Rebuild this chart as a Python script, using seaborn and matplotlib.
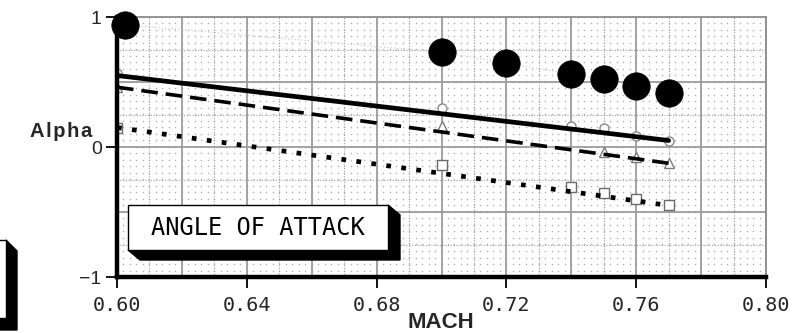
import numpy as np
import matplotlib
matplotlib.use("Agg")
import matplotlib.pyplot as plt
from matplotlib.patches import Polygon, Rectangle
import seaborn as sns

# Mach numbers of the measured points
mach = [0.60, 0.70, 0.74, 0.75, 0.76, 0.77]
mach_tri = [0.60, 0.70, 0.75, 0.76, 0.77]
mach_big = [0.6025, 0.70, 0.72, 0.74, 0.75, 0.76, 0.77]

# angle of attack values
alpha_big = [0.94, 0.73, 0.645, 0.56, 0.52, 0.47, 0.415]
alpha_circle = [0.57, 0.30, 0.16, 0.145, 0.085, 0.05]
alpha_triangle = [0.46, 0.16, -0.035, -0.075, -0.125]
alpha_square = [0.15, -0.14, -0.305, -0.35, -0.40, -0.445]

# straight trend lines, given by their values at Mach 0.60 and 0.77
trend_mach = [0.60, 0.77]
trend_solid = [0.55, 0.05]
trend_dashed = [0.46, -0.125]
trend_dotted = [0.15, -0.45]

xticks = [0.60, 0.64, 0.68, 0.72, 0.76, 0.80]
xtick_labels = ["0.60", "0.64", "0.68", "0.72", "0.76", "0.80"]
yticks = [-1, 0, 1]
ytick_labels = ["\u22121", "0", "1"]

sns.set_theme(style="white")
plt.rcParams["font.family"] = ["Liberation Sans", "DejaVu Sans"]

W, H = 792, 333
fig = plt.figure(figsize=(W / 100, H / 100), dpi=100)
L, R, T, B = 117, 766, 17, 277
ax = fig.add_axes([L / W, 1 - B / H, (R - L) / W, (B - T) / H])
ax.set_xlim(0.60, 0.80)
ax.set_ylim(-1, 1)

# background: dot mesh, dotted sub-grid and solid major grid
gx, gy = np.meshgrid(np.arange(0.60, 0.8001, 0.002), np.arange(-1, 1.001, 0.05))
ax.plot(gx.ravel(), gy.ravel(), linestyle="none", marker="s", markersize=1.0,
        color="#b0b0b0", markeredgewidth=0, zorder=0)
for x in np.arange(0.61, 0.80, 0.02):
    ax.axvline(x, color="#a0a0a0", lw=0.8, linestyle=(0, (1, 1.5)), zorder=0)
for y in [-0.75, -0.25, 0.25, 0.75]:
    ax.axhline(y, color="#a0a0a0", lw=0.8, linestyle=(0, (1, 1.5)), zorder=0)
for x in np.arange(0.62, 0.80, 0.02):
    ax.axvline(x, color="#9c9c9c", lw=1.3, zorder=0.5)
for y in [-0.5, 0, 0.5]:
    ax.axhline(y, color="#9c9c9c", lw=1.3, zorder=0.5)

# faint trace through the large points
sns.lineplot(x=mach_big, y=alpha_big, ax=ax, color="#c4c4c4", lw=0.8,
             linestyle=(0, (1, 2)), sort=False, zorder=1)

# open symbols
sns.lineplot(x=mach, y=alpha_circle, ax=ax, marker="o", linestyle="none",
             markerfacecolor="white", markeredgecolor="#8a8a8a", markeredgewidth=1.0,
             markersize=6.5, sort=False, zorder=2)
sns.lineplot(x=mach_tri, y=alpha_triangle, ax=ax, marker="^", linestyle="none",
             markerfacecolor="white", markeredgecolor="#7a7a7a", markeredgewidth=1.0,
             markersize=6.5, sort=False, zorder=2)
sns.lineplot(x=mach, y=alpha_square, ax=ax, marker="s", linestyle="none",
             markerfacecolor="white", markeredgecolor="#6a6a6a", markeredgewidth=1.0,
             markersize=6.5, sort=False, zorder=2)

# trend lines
sns.lineplot(x=trend_mach, y=trend_solid, ax=ax, color="black", lw=3.4,
             sort=False, zorder=3)
sns.lineplot(x=trend_mach, y=trend_dashed, ax=ax, color="black", lw=2.6,
             linestyle=(0, (4.6, 2.2)), sort=False, zorder=3)
sns.lineplot(x=trend_mach, y=trend_dotted, ax=ax, color="black", lw=3.4,
             linestyle=(0, (1, 2.2)), sort=False, zorder=3)

# large filled points
sns.scatterplot(x=mach_big, y=alpha_big, ax=ax, s=390, color="black",
                edgecolor="black", linewidth=0.5, zorder=4, clip_on=False)

# frame
for side in ("left", "bottom"):
    ax.spines[side].set_color("black")
    ax.spines[side].set_linewidth(3.2)
for side in ("top", "right"):
    ax.spines[side].set_color("#8c8c8c")
    ax.spines[side].set_linewidth(1.3)

ax.set_xticks(xticks)
ax.set_xticklabels(xtick_labels, fontfamily="DejaVu Sans Mono", fontsize=14.5)
ax.set_yticks(yticks)
ax.set_yticklabels(ytick_labels, fontsize=14)
ax.tick_params(axis="both", which="major", direction="out", length=8, width=1.3,
               color="black", left=True, bottom=True, pad=3)
ax.tick_params(axis="x", pad=6)
ax.set_xlabel("")
ax.set_ylabel("")

# axis titles
narrow = ["Liberation Sans Narrow", "Liberation Sans", "DejaVu Sans"]
fig.text(61 / W, 1 - 137 / H, "A\u200al\u200ap\u200ah\u200aa", ha="center",
         va="baseline", fontsize=14.5, fontweight="bold", family=narrow)
fig.text(441 / W, 1 - 328 / H, "MACH", ha="center", va="baseline",
         fontsize=16, fontweight="bold", family=narrow)

# caption box with drop shadow
def af(px, py):
    return ((px - L) / (R - L), (B - py) / (B - T))

shadow = Polygon([af(388, 205), af(400, 215), af(400, 260), af(140, 260),
                  af(128, 250), af(388, 250)], closed=True, transform=ax.transAxes,
                 facecolor="black", edgecolor="black", zorder=5)
ax.add_patch(shadow)
x0, y0 = af(128, 250)
x1, y1 = af(388, 205)
ax.add_patch(Rectangle((x0, y0), x1 - x0, y1 - y0, transform=ax.transAxes,
                       facecolor="white", edgecolor="black", lw=1.0, zorder=6))
cx, cy = af(258, 228)
ax.text(cx, cy, "ANGLE OF ATTACK", transform=ax.transAxes, ha="center", va="center",
        fontsize=17, fontfamily="DejaVu Sans Mono", color="black", zorder=7)

# partial framed panel at the lower left edge
def ff(px, py):
    return (px / W, 1 - py / H)

fig.patches.append(Polygon([ff(6, 240), ff(17, 251), ff(17, 330), ff(-5, 330),
                            ff(-5, 318), ff(6, 318)], closed=True,
                           transform=fig.transFigure, facecolor="black",
                           edgecolor="black", figure=fig))
fig.patches.append(Rectangle(ff(-5, 318), 11 / W, 78 / H, transform=fig.transFigure,
                             facecolor="white", edgecolor="black", lw=1.0, figure=fig))

fig.savefig("out.png", dpi=100)
